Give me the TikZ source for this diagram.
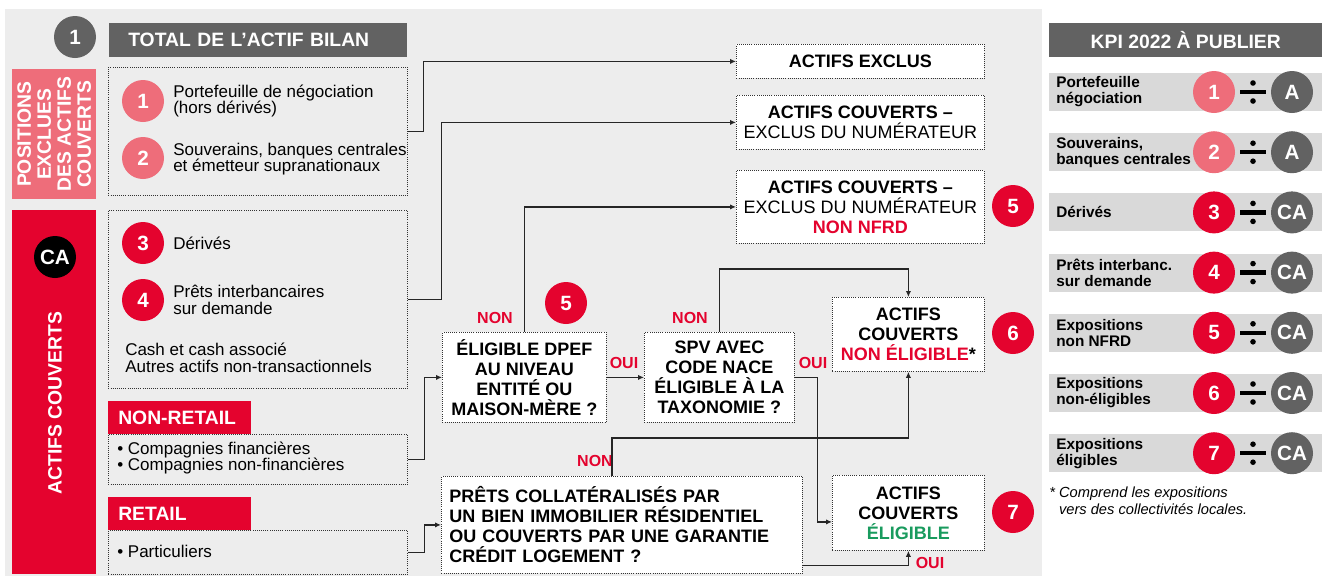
\documentclass[tikz,border=0pt]{standalone}
\usepackage{fontspec}
\setmainfont{Liberation Sans}
\usepackage{xcolor}
\usetikzlibrary{arrows.meta,positioning,calc}

\definecolor{bggray}{HTML}{EDEDED}
\definecolor{bargray}{HTML}{D9D9D9}
\definecolor{darkgray}{HTML}{626262}
\definecolor{pinkex}{HTML}{EE6D7A}
\definecolor{redca}{HTML}{E4032E}
\definecolor{greenel}{HTML}{199B5E}

\begin{document}
\begin{tikzpicture}[x=0.75pt,y=-0.75pt,
  dotbox/.style={draw=black!80, densely dotted, line width=0.6pt, anchor=north west, inner sep=0pt},
  flowbox/.style={dotbox, fill=white, align=center, font=\bfseries\fontsize{13.5}{15}\selectfont},
  numdot/.style={circle, fill=#1, text=white, inner sep=0pt, minimum size=31.5pt, font=\bfseries\fontsize{15.5}{15.5}\selectfont},
  tagbox/.style={fill=#1, text=white, anchor=north west, inner ysep=0pt, align=left, font=\bfseries\fontsize{14.5}{15}\selectfont},
  body/.style={anchor=west, align=left, inner sep=0pt, font=\fontsize{12.75}{12.5}\selectfont},
  yesno/.style={text=redca, inner sep=0pt, font=\bfseries\fontsize{12}{12}\selectfont},
  conn/.style={line width=1pt, black!85},
  arr/.style={conn, -{Latex[length=4.5pt,width=4pt]}},
]
  % Canvas
  \useasboundingbox (0,0) rectangle (1322,576);
  \fill[bggray] (5,9) rectangle (1042,576);

  % Total header
  \node[numdot=darkgray] (tot) at (75,37) {1};
  \node[tagbox=darkgray, minimum height=25.5pt, text width=195pt, inner xsep=14.25pt] (hdr) at (109,23) {TOTAL DE L’ACTIF BILAN};

  % Side bands
  \node[fill=pinkex, anchor=north west, inner sep=0pt, minimum width=63pt, minimum height=97.5pt] (posx) at (12,69) {};
  \node[rotate=90, text=white, align=center, font=\bfseries\fontsize{14.5}{15}\selectfont] at (posx.center) {POSITIONS\\EXCLUES\\DES ACTIFS\\COUVERTS};
  \node[fill=redca, anchor=north west, inner sep=0pt, minimum width=63pt, minimum height=273pt] (cov) at (12,210) {};
  \node[numdot=black] (cadot) at (55,257) {CA};
  \node[rotate=90, text=white, font=\bfseries\fontsize{14.5}{15}\selectfont] at (55,403) {ACTIFS COUVERTS};

  % Asset boxes
  \node[dotbox, minimum width=224.25pt, minimum height=96pt] (excbox) at (108,67) {};
  \node[numdot=pinkex] (e1) at (143,101) {1};
  \node[body] at (173,101) {Portefeuille de négociation\\(hors dérivés)};
  \node[numdot=pinkex] (e2) at (143,158) {2};
  \node[body] at (173,159) {Souverains, banques centrales\\et émetteur supranationaux};

  \node[dotbox, minimum width=224.25pt, minimum height=133.5pt] (covbox) at (108,210) {};
  \node[numdot=redca] (e3) at (143,243) {3};
  \node[body] at (173,243) {Dérivés};
  \node[numdot=redca] (e4) at (143,300) {4};
  \node[body] at (173,300) {Prêts interbancaires\\sur demande};
  \node[body] at (125,358) {Cash et cash associé\\Autres actifs non-transactionnels};

  \node[tagbox=redca, minimum height=24.75pt, text width=92.25pt, inner xsep=7.5pt] (nrtag) at (108,401) {NON-RETAIL};
  \node[dotbox, minimum width=224.25pt, minimum height=37.5pt] (nrbox) at (108,434) {};
  \node[body] at (117,458) {• Compagnies financières\\• Compagnies non-financières};

  \node[tagbox=redca, minimum height=24.75pt, text width=92.25pt, inner xsep=7.5pt] (rtag) at (108,497) {RETAIL};
  \node[dotbox, minimum width=224.25pt, minimum height=33pt] (rbox) at (108,530) {};
  \node[body] at (117,551) {• Particuliers};

  % Outcome boxes
  \node[flowbox, minimum width=186pt, minimum height=25.5pt] (excl) at (736,44) {ACTIFS EXCLUS};
  \node[flowbox, minimum width=186pt, minimum height=40.5pt] (exclnum) at (736,95) {ACTIFS COUVERTS –\\{\mdseries EXCLUS DU NUMÉRATEUR}};
  \node[flowbox, minimum width=186pt, minimum height=54.75pt] (nonnfrd) at (736,170) {ACTIFS COUVERTS –\\{\mdseries EXCLUS DU NUMÉRATEUR}\\\textcolor{redca}{NON NFRD}};
  \node[numdot=redca] (o5) at (1013,206) {5};

  % Decision boxes
  \node[flowbox, minimum width=123pt, minimum height=67.5pt] (dpef) at (442,332) {ÉLIGIBLE DPEF\\AU NIVEAU\\ENTITÉ OU\\MAISON-MÈRE ?};
  \node[flowbox, minimum width=112.5pt, minimum height=67.5pt] (spv) at (644,332) {SPV AVEC\\CODE NACE\\ÉLIGIBLE À LA\\TAXONOMIE ?};
  \node[flowbox, minimum width=114pt, minimum height=55.5pt] (nonelig) at (832,297) {ACTIFS\\COUVERTS\\\textcolor{redca}{NON ÉLIGIBLE}*};
  \node[numdot=redca] (o6) at (1013,333) {6};
  \node[flowbox, minimum width=114pt, minimum height=56.25pt] (elig) at (832,475) {ACTIFS\\COUVERTS\\\textcolor{greenel}{ÉLIGIBLE}};
  \node[numdot=redca] (o7) at (1013,512) {7};
  \node[flowbox, align=left, text width=258.75pt, inner xsep=6pt, minimum height=72.75pt] (prets) at (441,476) {PRÊTS COLLATÉRALISÉS PAR\\UN BIEN IMMOBILIER RÉSIDENTIEL\\OU COUVERTS PAR UNE GARANTIE\\CRÉDIT LOGEMENT ?};

  % Labels on the decisions
  \node[yesno] (non1) at (495,318) {NON};
  \node[numdot=redca] (d5) at (566,303) {5};
  \node[yesno] (oui1) at (624,363) {OUI};
  \node[yesno] (non2) at (690,318) {NON};
  \node[yesno] (oui2) at (813,363) {OUI};
  \node[yesno] (non3) at (595,461) {NON};
  \node[yesno] (oui3) at (930,563) {OUI};

  % Connectors
  \draw[arr] (excbox.east) -- ++(16,0) |- (excl.west);
  \draw[arr] (covbox.east) -- ++(34,0) |- (exclnum.west);
  \draw[arr] (nrbox.east) -- ++(17,0) |- (dpef.west);
  \draw[arr] (rbox.east) -- ++(17,0) |- (prets.west);
  \draw[arr] (dpef.north) |- (nonnfrd.west);
  \draw[arr] (dpef.east) -- (spv.west);
  \draw[arr] (spv.north) -- ++(0,-63) -| (nonelig.north);
  \draw[arr] (spv.east) -- ++(23,0) |- ($(elig.west)+(0,9)$);
  \draw[arr] ($(prets.north)+(-10,0)$) -- ++(0,-38) -| (nonelig.south);
  \draw[arr] ($(prets.south east)+(0,-8)$) -| (elig.south);

  % KPI panel
  \node[fill=darkgray, text=white, anchor=north west, inner sep=0pt, minimum width=204.75pt, minimum height=25.5pt, font=\bfseries\fontsize{14.5}{15}\selectfont] (kpi) at (1049,23) {KPI 2022 À PUBLIER};
  \foreach \i/\lbl/\col/\den in {1/{Portefeuille\\négociation}/pinkex/A,
      2/{Souverains,\\banques centrales}/pinkex/A,
      3/{Dérivés}/redca/CA,
      4/{Prêts interbanc.\\sur demande}/redca/CA,
      5/{Expositions\\non NFRD}/redca/CA,
      6/{Expositions\\non-éligibles}/redca/CA,
      7/{Expositions\\éligibles}/redca/CA} {
    \pgfmathsetmacro\ry{92+60.2*(\i-1)}
    \node[fill=bargray, inner sep=0pt, minimum width=204.75pt, minimum height=28.5pt] (bar\i) at (1185.5,\ry) {};
    \node[anchor=west, align=left, inner sep=0pt, font=\bfseries\fontsize{11.5}{12}\selectfont] (lab\i) at (1056,\ry) {\lbl};
    \node[numdot=\col] (num\i) at (1214,\ry) {\i};
    \fill (1240,\ry-2.2) rectangle (1266,\ry+2.2);
    \fill (1253,\ry-9) circle (2.1pt);
    \fill (1253,\ry+9) circle (2.1pt);
    \node[numdot=darkgray] (den\i) at (1292,\ry) {\den};
  }
  \node[anchor=north west, align=left, inner sep=0pt, font=\itshape\fontsize{11}{12.5}\selectfont] (fnote) at (1049,487) {* Comprend les expositions\\\hphantom{* }vers des collectivités locales.};
\end{tikzpicture}
\end{document}
